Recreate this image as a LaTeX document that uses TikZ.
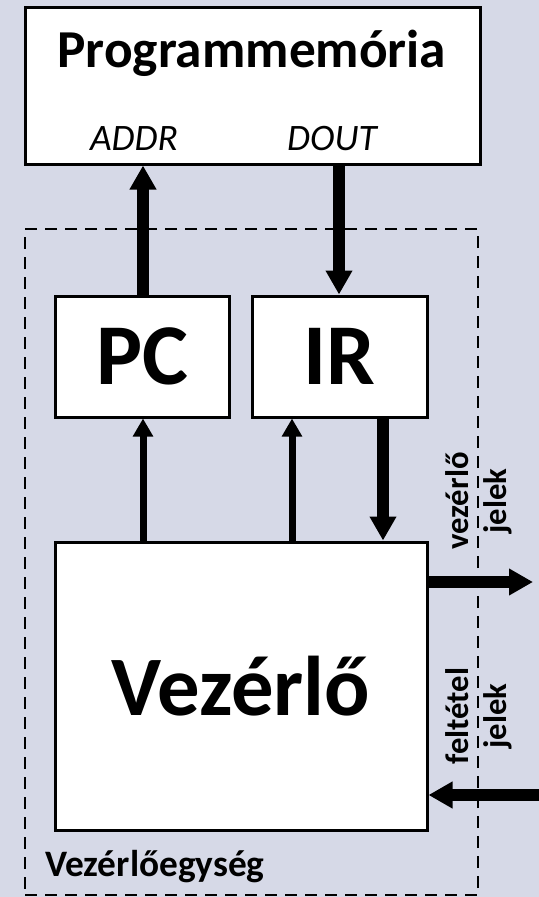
\documentclass[tikz,border=0pt]{standalone}
\usepackage{fontspec}
\setmainfont{Carlito}
\usetikzlibrary{arrows.meta}
\definecolor{bg}{RGB}{214,217,231}
\begin{document}
\begin{tikzpicture}[x=0.75pt,y=-0.75pt,
  box/.style={draw=black, line width=2.25pt, fill=white, inner sep=0pt},
  bigarrow/.style={line width=9pt, -{Triangle[width=19pt,length=18pt]}},
  thinarrow/.style={line width=5.25pt, -{Triangle[width=14.5pt,length=13.5pt]}},
  frame/.style={draw=black, line width=1.5pt, dash pattern=on 9pt off 6pt, inner sep=0pt},
  lbl/.style={inner sep=0pt}]
\useasboundingbox (0,0) rectangle (539,897);
\fill[bg] (0,0) rectangle (539,897);

% dashed frame of the control unit
\node[frame, minimum width=339.75pt, minimum height=499.5pt] (unit) at (251.5,562) {};

% blocks
\node[box, minimum width=341.25pt, minimum height=117.4pt] (prog) at (252.5,85.75) {};
\node[box, minimum width=130.5pt, minimum height=90.75pt,
      font=\bfseries\fontsize{65}{70}\selectfont] (pc) at (142,356.5) {PC};
\node[box, minimum width=131.25pt, minimum height=90.75pt,
      font=\bfseries\fontsize{65}{70}\selectfont] (ir) at (339.5,356.5) {IR};
\node[box, minimum width=279pt, minimum height=216pt,
      font=\bfseries\fontsize{63.5}{68}\selectfont] (vez) at (241,686) {Vezérlő};

% texts
\node[lbl, anchor=base, font=\bfseries\fontsize{40}{48}\selectfont] (progt) at (252,67) {Programmemória};
\node[lbl, anchor=base, font=\itshape\fontsize{28}{33}\selectfont] (addr) at (134,150) {ADDR};
\node[lbl, anchor=base, font=\itshape\fontsize{28}{33}\selectfont] (dout) at (332,150) {DOUT};
\node[lbl, anchor=base west, font=\bfseries\fontsize{28}{33}\selectfont] (unitt) at (45,876) {Vezérlőegység};
\node[lbl, rotate=90, align=center, font=\bfseries\fontsize{24.5}{28.5}\selectfont] (vjel) at (479,501) {vezérlő\\jelek};
\node[lbl, rotate=90, align=center, font=\bfseries\fontsize{24.5}{28.5}\selectfont] (fjel) at (479,716) {feltétel\\jelek};

% helper coordinates
\coordinate (ax) at (143,0);
\coordinate (dx) at (339,0);
\coordinate (irx) at (292,0);
\coordinate (ix) at (383,0);
\coordinate (oy) at (0,582);
\coordinate (iy) at (0,795);
\coordinate (outend) at (533,582);
\coordinate (instart) at (539,795);

% connectors
\draw[bigarrow] (ax |- pc.north) -- (ax |- prog.south);
\draw[bigarrow] (dx |- prog.south) -- (dx |- ir.north);
\draw[thinarrow] (ax |- vez.north) -- (ax |- pc.south);
\draw[thinarrow] (irx |- vez.north) -- (irx |- ir.south);
\draw[bigarrow] (ix |- ir.south) -- (ix |- vez.north);
\draw[bigarrow] (vez.east |- oy) -- (outend);
\draw[bigarrow] (instart) -- (vez.east |- iy);
\end{tikzpicture}
\end{document}
